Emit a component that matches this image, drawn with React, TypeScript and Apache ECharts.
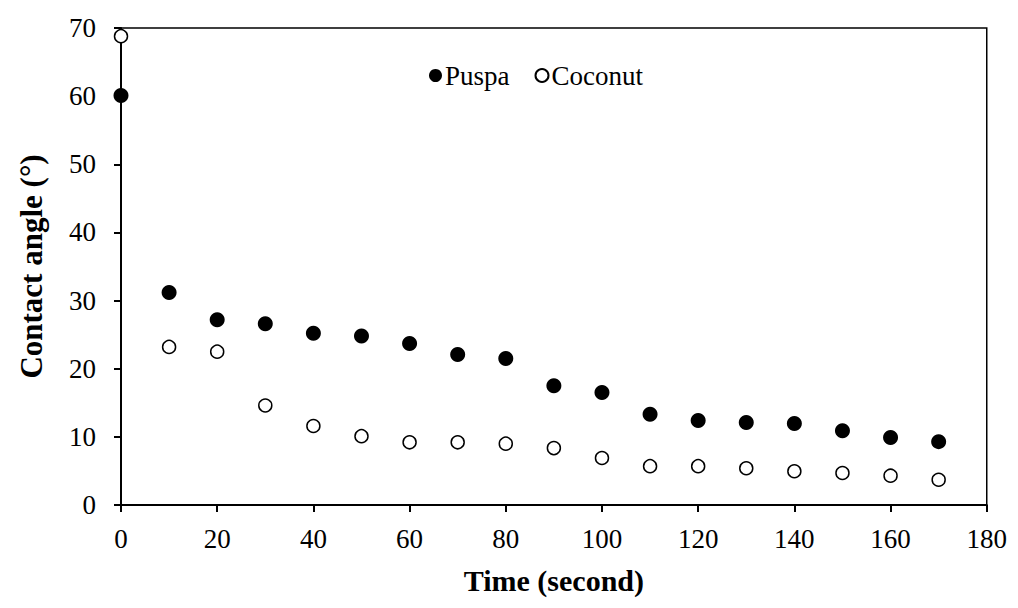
import React, { useEffect, useRef } from "react";
import * as echarts from "echarts";

const times = [0, 10, 20, 30, 40, 50, 60, 70, 80, 90, 100, 110, 120, 130, 140, 150, 160, 170];
const puspa = [60.1, 31.2, 27.2, 26.6, 25.2, 24.8, 23.7, 22.1, 21.5, 17.5, 16.5, 13.3, 12.4, 12.1, 11.95, 10.9, 9.9, 9.3];
const coconut = [68.8, 23.2, 22.5, 14.6, 11.6, 10.1, 9.2, 9.2, 9.0, 8.35, 6.9, 5.7, 5.7, 5.4, 4.95, 4.7, 4.3, 3.7];

const FONT = "'Liberation Serif', 'Times New Roman', serif";

export default function App() {
  const ref = useRef<HTMLDivElement>(null);
  useEffect(() => {
    if (!ref.current) return;
    const chart = echarts.init(ref.current, undefined, { renderer: "svg" });
    chart.setOption({
      animation: false,
      textStyle: { fontFamily: FONT, color: "#000" },
      grid: {
        left: 104,
        right: 17,
        top: 20,
        bottom: 92,
        show: true,
        borderColor: "#000",
        borderWidth: 1.5,
        backgroundColor: "transparent",
      },
      legend: {
        left: 421,
        top: 54,
        padding: 0,
        itemWidth: 13,
        itemHeight: 13,
        itemGap: 25,
        icon: "circle",
        textStyle: { fontFamily: FONT, fontSize: 27, color: "#000", padding: [0, 0, 0, -2] },
        data: ["Puspa", "Coconut"],
      },
      xAxis: {
        type: "value",
        min: 0,
        max: 180,
        interval: 20,
        name: "Time (second)",
        nameLocation: "middle",
        nameGap: 60,
        nameTextStyle: { fontFamily: FONT, fontSize: 30, fontWeight: "bold", color: "#000" },
        axisLine: { show: true, lineStyle: { color: "#000", width: 2 } },
        axisTick: { show: true, inside: false, length: 7, lineStyle: { color: "#000", width: 2 } },
        axisLabel: { fontFamily: FONT, fontSize: 27, color: "#000", margin: 20 },
        splitLine: { show: false },
      },
      yAxis: {
        type: "value",
        min: 0,
        max: 70,
        interval: 10,
        name: "Contact angle (°)",
        nameLocation: "middle",
        nameGap: 74,
        nameRotate: 90,
        nameTextStyle: { fontFamily: FONT, fontSize: 31, fontWeight: "bold", color: "#000" },
        axisLine: { show: true, lineStyle: { color: "#000", width: 2 } },
        axisTick: { show: true, inside: false, length: 7, lineStyle: { color: "#000", width: 2 } },
        axisLabel: { fontFamily: FONT, fontSize: 27, color: "#000", margin: 25 },
        splitLine: { show: false },
      },
      series: [
        {
          name: "Puspa",
          type: "scatter",
          clip: false,
          symbol: "circle",
          symbolSize: 15,
          itemStyle: { color: "#000", borderColor: "#000", borderWidth: 0, opacity: 1 },
          data: times.map((t, i) => [t, puspa[i]]),
          z: 3,
        },
        {
          name: "Coconut",
          type: "scatter",
          clip: false,
          symbol: "circle",
          symbolSize: 13,
          itemStyle: { color: "#fff", borderColor: "#000", borderWidth: 1.5, opacity: 1 },
          data: times.map((t, i) => [t, coconut[i]]),
          z: 4,
        },
      ],
    });
    return () => chart.dispose();
  }, []);
  return <div ref={ref} style={{ width: 1002, height: 592 }} />;
}
